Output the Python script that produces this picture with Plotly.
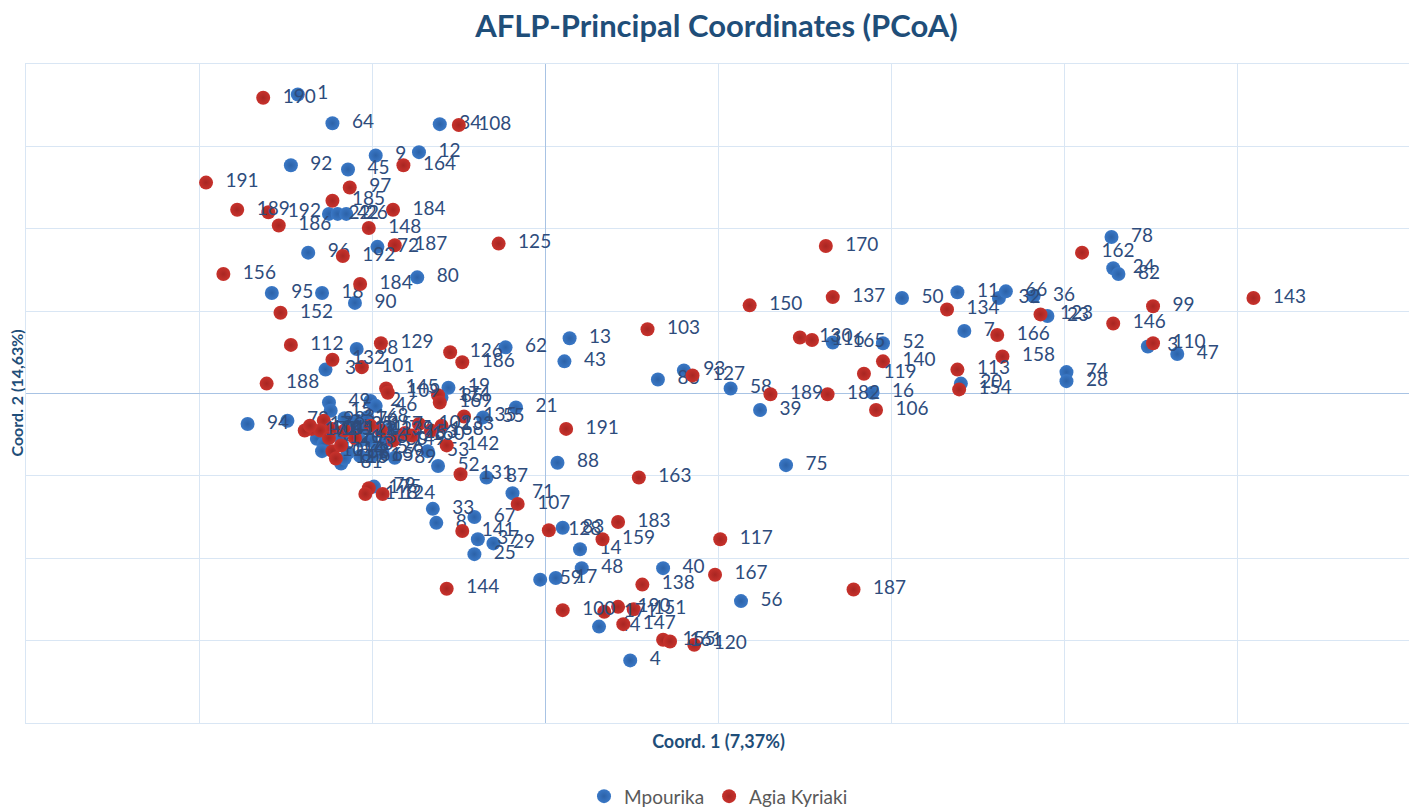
import plotly.graph_objects as go

# PCoA scores (one grid step = 1 unit)
mp_labels = ["1", "64", "34", "12", "9", "92", "45", "22", "42", "26",
             "72", "96", "80", "95", "18", "90", "38", "30", "62", "19",
             "85", "49", "15", "2", "46", "68", "55", "21", "88", "89",
             "53", "52", "87", "71", "13", "43", "86", "93", "58", "39",
             "75", "50", "165", "52", "16", "78", "24", "82", "11", "32",
             "66", "36", "23", "7", "20", "74", "28", "3", "47", "79",
             "33", "8", "67", "37", "29", "25", "83", "14", "48", "59",
             "17", "40", "56", "44", "4", "94", "73", "5", "6", "10",
             "81", "31", "35", "41", "51", "54", "57", "60", "61", "63",
             "65", "69", "70", "76", "77", "84", "91", "27"]
mp_x = [-1.43, -1.23, -0.61, -0.73, -0.98, -1.47, -1.14, -1.25, -1.20, -1.15,
        -0.97, -1.37, -0.74, -1.58, -1.29, -1.10, -1.09, -1.27, -0.23, -0.56,
        -0.60, -1.25, -1.24, -1.01, -0.98, -1.03, -0.36, -0.17, 0.07, -0.87,
        -0.68, -0.62, -0.34, -0.19, 0.14, 0.11, 0.65, 0.80, 1.07, 1.24,
        1.39, 2.06, 1.66, 1.95, 1.89, 3.27, 3.28, 3.31, 2.38, 2.62,
        2.66, 2.82, 2.90, 2.42, 2.40, 3.01, 3.01, 3.48, 3.65, -0.99,
        -0.65, -0.63, -0.41, -0.39, -0.30, -0.41, 0.10, 0.20, 0.21, -0.03,
        0.06, 0.68, 1.13, 0.31, 0.49, -1.72, -1.49, -1.32, -1.28, -1.29,
        -1.18, -1.16, -1.12, -1.10, -1.07, -1.01, -0.97, -0.92, -1.07, -1.14,
        -1.00, -0.94, -1.18, -1.09, -0.90, -0.85, -1.06, -1.16]
mp_y = [3.63, 3.28, 3.27, 2.93, 2.89, 2.77, 2.72, 2.18, 2.18, 2.18,
        1.78, 1.71, 1.41, 1.22, 1.22, 1.10, 0.54, 0.29, 0.56, 0.07,
        -0.05, -0.11, -0.21, -0.09, -0.15, -0.29, -0.29, -0.17, -0.84, -0.78,
        -0.70, -0.88, -1.02, -1.21, 0.67, 0.39, 0.17, 0.28, 0.06, -0.20,
        -0.87, 1.16, 0.62, 0.61, 0.01, 1.90, 1.52, 1.45, 1.23, 1.16,
        1.24, 1.18, 0.94, 0.76, 0.12, 0.26, 0.15, 0.57, 0.48, -1.13,
        -1.40, -1.57, -1.50, -1.77, -1.82, -1.95, -1.63, -1.89, -2.12, -2.26,
        -2.24, -2.12, -2.52, -2.83, -3.24, -0.37, -0.33, -0.55, -0.61, -0.70,
        -0.85, -0.30, -0.39, -0.48, -0.57, -0.57, -0.66, -0.57, -0.76, -0.72,
        -0.76, -0.72, -0.54, -0.33, -0.43, -0.51, -0.43, -0.79]

ak_labels = ["190", "108", "164", "191", "97", "185", "189", "192", "186", "184",
             "148", "187", "125", "192", "156", "184", "152", "112", "129", "132",
             "101", "126", "186", "188", "145", "109", "174", "169", "135", "102",
             "168", "133", "160", "142", "131", "191", "103", "127", "150", "170",
             "137", "130", "116", "140", "119", "182", "189", "106", "163", "162",
             "134", "123", "166", "158", "113", "154", "99", "146", "110", "143",
             "175", "118", "124", "141", "107", "128", "183", "159", "144", "138",
             "167", "117", "187", "100", "171", "190", "151", "147", "155", "161",
             "120", "98", "104", "105", "111", "114", "115", "121", "122", "136",
             "139", "149", "153", "157", "172", "173", "176"]
ak_x = [-1.63, -0.50, -0.82, -1.96, -1.13, -1.23, -1.78, -1.60, -1.54, -0.88,
        -1.02, -0.87, -0.27, -1.17, -1.86, -1.07, -1.53, -1.47, -0.95, -1.23,
        -1.06, -0.55, -0.48, -1.61, -0.92, -0.91, -0.62, -0.61, -0.47, -0.73,
        -0.66, -0.60, -0.77, -0.57, -0.49, 0.12, 0.59, 0.85, 1.18, 1.62,
        1.66, 1.47, 1.54, 1.95, 1.84, 1.63, 1.30, 1.91, 0.54, 3.10,
        2.32, 2.86, 2.61, 2.64, 2.38, 2.39, 3.51, 3.28, 3.51, 4.09,
        -1.02, -1.04, -0.94, -0.48, -0.16, 0.02, 0.42, 0.33, -0.57, 0.56,
        0.98, 1.01, 1.78, 0.10, 0.34, 0.42, 0.51, 0.45, 0.68, 0.72,
        0.86, -1.28, -1.35, -1.30, -1.23, -1.23, -1.21, -1.25, -1.16, -1.10,
        -0.95, -0.88, -0.81, -1.01, -1.39, -1.18, -1.36]
ak_y = [3.59, 3.26, 2.77, 2.56, 2.50, 2.34, 2.23, 2.20, 2.04, 2.23,
        2.01, 1.80, 1.82, 1.67, 1.45, 1.33, 0.98, 0.59, 0.61, 0.41,
        0.32, 0.50, 0.38, 0.12, 0.06, 0.01, -0.02, -0.11, -0.28, -0.37,
        -0.45, -0.39, -0.51, -0.63, -0.98, -0.43, 0.78, 0.22, 1.07, 1.79,
        1.17, 0.68, 0.65, 0.39, 0.24, -0.01, -0.01, -0.20, -1.02, 1.71,
        1.02, 0.96, 0.71, 0.45, 0.29, 0.05, 1.06, 0.85, 0.61, 1.16,
        -1.15, -1.22, -1.22, -1.67, -1.34, -1.66, -1.56, -1.77, -2.37, -2.32,
        -2.20, -1.77, -2.38, -2.63, -2.65, -2.59, -2.62, -2.80, -2.99, -3.01,
        -3.05, -0.33, -0.43, -0.45, -0.43, -0.70, -0.79, -0.54, -0.45, -0.54,
        -0.45, -0.57, -0.48, -0.39, -0.45, -0.63, -0.39]

BLUE = "#3A78C6"
BLUE_EDGE = "#2C62A8"
RED = "#C8322C"
RED_EDGE = "#A82622"
LABEL = "#2E4C7C"
TITLE = "#1F4E79"
GRID = "#D9E6F4"

PAD = "\u00a0\u00a0"  # small gap between dot and its label

fig = go.Figure()
fig.add_trace(go.Scatter(
    x=mp_x, y=mp_y, text=[PAD + s for s in mp_labels], name="Mpourika",
    mode="markers+text", textposition="middle right",
    textfont=dict(family="Lato", size=19, color=LABEL),
    marker=dict(size=14, color=BLUE, gradient=dict(type="radial", color=BLUE_EDGE)),
))
fig.add_trace(go.Scatter(
    x=ak_x, y=ak_y, text=[PAD + s for s in ak_labels], name="Agia Kyriaki",
    mode="markers+text", textposition="middle right",
    textfont=dict(family="Lato", size=19, color=LABEL),
    marker=dict(size=14, color=RED, gradient=dict(type="radial", color=RED_EDGE)),
))

axis_common = dict(
    showticklabels=False, ticks="", dtick=1, automargin=False,
    showgrid=True, gridcolor=GRID, gridwidth=1,
    zeroline=True, zerolinecolor="#A8C3E4", zerolinewidth=1,
    showline=True, linecolor=GRID, mirror=True,
)

fig.update_layout(
    width=1417, height=811,
    paper_bgcolor="white", plot_bgcolor="white",
    margin=dict(l=18, r=14, t=56, b=96),
    title=dict(text="<b>AFLP-Principal Coordinates (PCoA)</b>",
               x=0.5, xanchor="center", y=0.978, yanchor="middle",
               font=dict(family="Lato", size=31, color=TITLE)),
    xaxis=dict(range=[-3, 5],
               title=dict(text="<b>Coord. 1 (7,37%)</b>", standoff=12,
                          font=dict(family="Lato", size=18, color=TITLE)),
               **axis_common),
    yaxis=dict(range=[-4, 4], **axis_common),
    annotations=[dict(text="<b>Coord. 2 (14,63%)</b>", textangle=-90,
                      xref="paper", yref="paper", x=0, y=0.5,
                      xanchor="center", yanchor="middle", xshift=-10,
                      showarrow=False,
                      font=dict(family="Lato", size=16, color=TITLE))],
    legend=dict(orientation="h", x=0.5, xanchor="center",
                yref="container", y=0.028, yanchor="middle",
                font=dict(family="Lato", size=19, color="#595959"),
                itemwidth=30, tracegroupgap=0),
    showlegend=True,
)

fig.write_html("out.html")
